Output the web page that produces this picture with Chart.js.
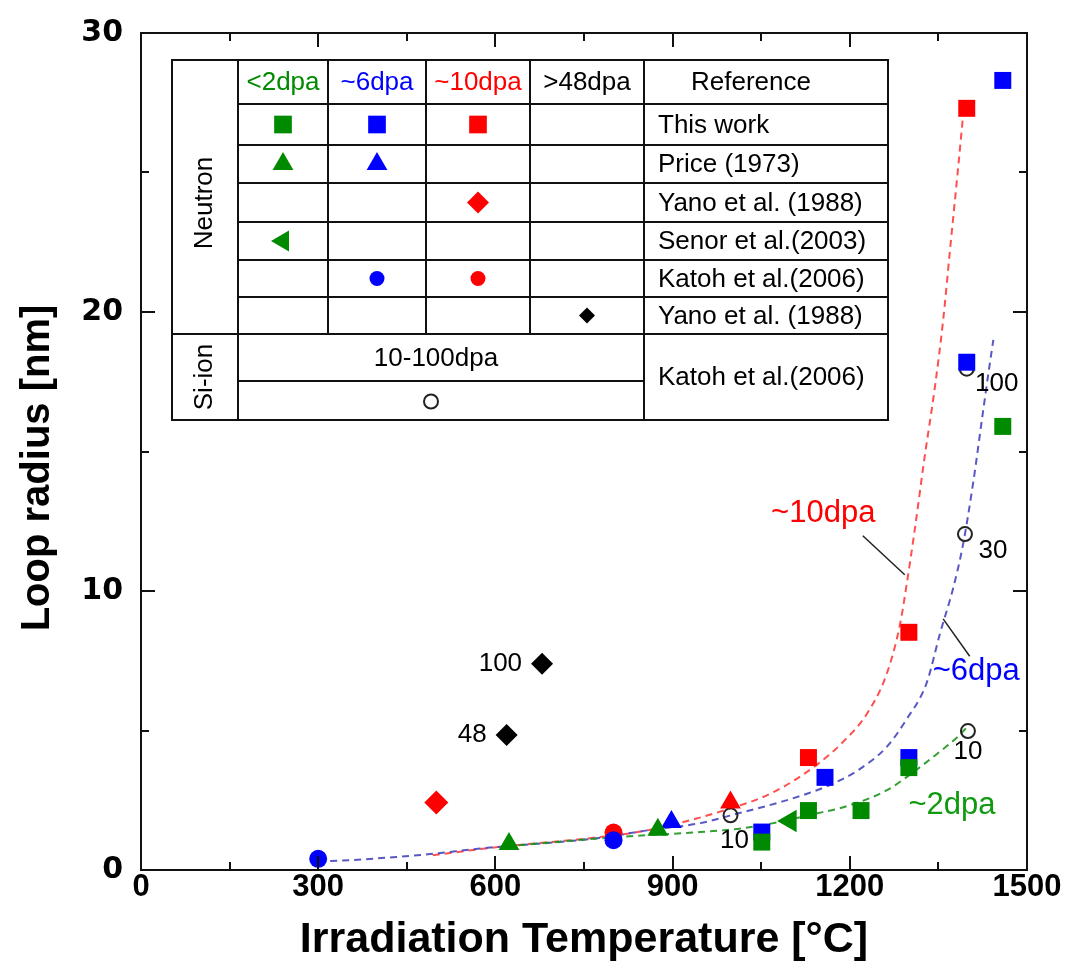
<!DOCTYPE html>
<html lang="en">
<head>
<meta charset="utf-8">
<title>Loop radius vs. irradiation temperature</title>
<script src="https://cdn.jsdelivr.net/npm/chart.js@4.4.1/dist/chart.umd.min.js"></script>
<style>
  html, body { margin: 0; padding: 0; background: #ffffff; }
  canvas { display: block; }
</style>
</head>
<body>
<canvas id="chart" width="1070" height="970"></canvas>
<script>
// ---------- axis tick labels and titles ----------
const tempTickLabels = [0, 300, 600, 900, 1200, 1500];
const radiusTickLabels = [0, 10, 20, 30];
const tempTitle = 'Irradiation Temperature [°C]';
const radiusTitle = 'Loop radius [nm]';

// ---------- measured loop radius (nm) vs irradiation temperature (°C) ----------
// This work (neutron)
const workLt2Temp = [1051, 1130, 1219, 1300, 1459];
const workLt2Radius = [1.00, 2.13, 2.13, 3.67, 15.9];
const work6Temp = [1051, 1158, 1300, 1398, 1459];
const work6Radius = [1.36, 3.32, 4.03, 18.2, 28.3];
const work10Temp = [1130, 1300, 1398];
const work10Radius = [4.03, 8.52, 27.3];

// Price (1973)
const priceLt2Temp = [623, 875];
const priceLt2Radius = [0.93, 1.44];
const price6Temp = [898];
const price6Radius = [1.72];
const price10Temp = [998];
const price10Radius = [2.42];

// Yano et al. (1988), ~10 dpa
const yano10Temp = [500];
const yano10Radius = [2.42];

// Senor et al. (2003)
const senorTemp = [1099];
const senorRadius = [1.76];

// Katoh et al. (2006), neutron
const katoh6Temp = [300, 800];
const katoh6Radius = [0.40, 1.07];
const katoh10Temp = [800];
const katoh10Radius = [1.34];

// Yano et al. (1988), >48 dpa
const yanoHighTemp = [619, 679];
const yanoHighRadius = [4.84, 7.39];
const yanoHighDose = ['48', '100'];

// Katoh et al. (2006), Si-ion
const siIonTemp = [998, 1400, 1395, 1398];
const siIonRadius = [1.96, 4.98, 12.04, 17.97];
const siIonDose = ['10', '10', '30', '100'];

// ---------- trend curves (dashed) ----------
const trend10Temp = [494, 603, 772, 857, 997, 1070, 1149, 1189, 1229, 1262, 1285, 1296, 1310, 1326, 1344, 1358, 1370, 1384, 1392];
const trend10Radius = [0.53, 0.82, 1.17, 1.42, 2.2, 2.78, 3.85, 4.6, 5.6, 7.0, 8.8, 10.2, 12.2, 14.7, 17.3, 19.7, 22.3, 25.3, 27.1];
const trend6Temp = [300, 376, 433, 489, 574, 772, 857, 947, 997, 1085, 1130, 1172, 1212, 1262, 1296, 1330, 1353, 1375, 1392, 1409, 1426, 1436, 1443];
const trend6Radius = [0.30, 0.38, 0.47, 0.57, 0.77, 1.14, 1.42, 1.68, 1.95, 2.45, 2.75, 3.1, 3.55, 4.4, 5.4, 6.7, 8.5, 10.1, 11.7, 13.9, 16.5, 18.0, 19.0];
const trendLt2Temp = [619, 799, 946, 1020, 1080, 1133, 1189, 1262, 1307, 1353, 1381, 1402];
const trendLt2Radius = [0.85, 1.17, 1.36, 1.5, 1.72, 1.98, 2.25, 2.85, 3.5, 4.25, 4.74, 5.2];

// ---------- table text ----------
const doseHeaders = ['<2dpa', '~6dpa', '~10dpa', '>48dpa'];
const referenceNames = ['This work', 'Price (1973)', 'Yano et al. (1988)', 'Senor et al.(2003)', 'Katoh et al.(2006)', 'Yano et al. (1988)'];

const GREEN = '#008a00';
const BLUE = '#0000ff';
const RED = '#ff0000';
const BLACK = '#000000';

function xy(xs, ys) { return xs.map((x, i) => ({ x, y: ys[i] })); }

function markers(label, xs, ys, style, color, radius, extra) {
  return Object.assign({
    label,
    data: xy(xs, ys),
    showLine: false,
    pointStyle: style,
    pointRadius: radius,
    pointHoverRadius: radius,
    pointBackgroundColor: color,
    pointBorderColor: color,
    pointBorderWidth: 0,
    order: 1
  }, extra || {});
}

function trend(label, xs, ys, color) {
  return {
    label,
    data: xy(xs, ys),
    showLine: true,
    borderColor: color,
    borderWidth: 2,
    borderDash: [7, 5],
    pointRadius: 0,
    pointHoverRadius: 0,
    cubicInterpolationMode: 'monotone',
    fill: false,
    order: 10
  };
}

const datasets = [
  trend('~2dpa trend', trendLt2Temp, trendLt2Radius, 'rgba(30,150,30,0.9)'),
  trend('~6dpa trend', trend6Temp, trend6Radius, 'rgba(70,70,190,0.9)'),
  trend('~10dpa trend', trend10Temp, trend10Radius, 'rgba(255,60,60,0.9)'),

  markers('Katoh ~6dpa', katoh6Temp, katoh6Radius, 'circle', BLUE, 9, { tableRow: 4, tableCol: 1, tableRadius: 7.5 }),
  markers('Katoh ~10dpa', katoh10Temp, katoh10Radius, 'circle', RED, 9, { tableRow: 4, tableCol: 2, tableRadius: 7.5 }),
  markers('Price <2dpa', priceLt2Temp, priceLt2Radius, 'triangle', GREEN, 12, { tableRow: 1, tableCol: 0, tableRadius: 12 }),
  markers('Price ~6dpa', price6Temp, price6Radius, 'triangle', BLUE, 12, { tableRow: 1, tableCol: 1, tableRadius: 12 }),
  markers('Price ~10dpa', price10Temp, price10Radius, 'triangle', RED, 12),
  markers('Yano ~10dpa', yano10Temp, yano10Radius, 'rectRot', RED, 12, { tableRow: 2, tableCol: 2, tableRadius: 11 }),
  markers('Senor <2dpa', senorTemp, senorRadius, 'triangle', GREEN, 13, { pointRotation: -90, tableRow: 3, tableCol: 0, tableRadius: 12 }),
  markers('This work <2dpa', workLt2Temp, workLt2Radius, 'rect', GREEN, 12, { tableRow: 0, tableCol: 0, tableRadius: 12.5 }),
  markers('This work ~6dpa', work6Temp, work6Radius, 'rect', BLUE, 12, { tableRow: 0, tableCol: 1, tableRadius: 12.5 }),
  markers('This work ~10dpa', work10Temp, work10Radius, 'rect', RED, 12, { tableRow: 0, tableCol: 2, tableRadius: 12.5 }),
  markers('Yano >48dpa', yanoHighTemp, yanoHighRadius, 'rectRot', BLACK, 11, {
    tableRow: 5, tableCol: 3, tableRadius: 8,
    doseLabels: yanoHighDose, labelAlign: 'right', labelOffsets: [[-20, 0], [-20, 0]]
  }),
  markers('Si-ion', siIonTemp, siIonRadius, 'circle', 'rgba(0,0,0,0)', 7, {
    pointBorderColor: '#222', pointBorderWidth: 2, tableRow: 'si', tableRadius: 7,
    doseLabels: siIonDose, labelAlign: 'center', labelOffsets: [[4, 26], [0, 21], [28, 17], [30, 15]]
  })
];

// dashed-curve captions with leader lines (data coordinates)
const curveNotes = [
  { text: '~10dpa', color: RED, at: [1155, 12.79], from: [1222, 11.98], to: [1293, 10.58] },
  { text: '~6dpa', color: BLUE, at: [1414, 7.12], from: [1403, 7.66], to: [1358, 9.0] },
  { text: '~2dpa', color: '#109a10', at: [1373, 2.32] }
];

const FONT = '"Liberation Sans", Arial, sans-serif';

// frame box with inward ticks on all four sides, plus the vertical axis title
const framePlugin = {
  id: 'frameTicks',
  afterDatasetsDraw(chart) {
    const { ctx, chartArea: a, scales: { x, y } } = chart;
    ctx.save();
    ctx.strokeStyle = '#111';
    ctx.lineWidth = 2;
    ctx.strokeRect(a.left, a.top, a.right - a.left, a.bottom - a.top);
    ctx.beginPath();
    x.ticks.forEach(t => {
      const px = Math.round(x.getPixelForValue(t.value));
      const len = tempTickLabels.includes(t.value) ? 14 : 8;
      ctx.moveTo(px, a.bottom); ctx.lineTo(px, a.bottom - len);
      ctx.moveTo(px, a.top); ctx.lineTo(px, a.top + len);
    });
    y.ticks.forEach(t => {
      const py = Math.round(y.getPixelForValue(t.value));
      const len = radiusTickLabels.includes(t.value) ? 14 : 8;
      ctx.moveTo(a.left, py); ctx.lineTo(a.left + len, py);
      ctx.moveTo(a.right, py); ctx.lineTo(a.right - len, py);
    });
    ctx.stroke();

    ctx.translate(38, 468);
    ctx.rotate(-Math.PI / 2);
    ctx.font = 'bold 40px ' + FONT;
    ctx.fillStyle = '#000';
    ctx.textAlign = 'center';
    ctx.textBaseline = 'middle';
    ctx.fillText(radiusTitle, 0, 0);
    ctx.restore();
  }
};

// dose labels next to points and captions of the trend curves
const notesPlugin = {
  id: 'notes',
  afterDatasetsDraw(chart) {
    const { ctx, scales: { x, y } } = chart;
    ctx.save();
    ctx.textBaseline = 'middle';
    ctx.font = '26px ' + FONT;
    ctx.fillStyle = '#000';
    chart.data.datasets.forEach((ds, i) => {
      if (!ds.doseLabels) return;
      const meta = chart.getDatasetMeta(i);
      ctx.textAlign = ds.labelAlign;
      meta.data.forEach((el, j) => {
        const off = ds.labelOffsets[j];
        ctx.fillText(ds.doseLabels[j], el.x + off[0], el.y + off[1]);
      });
    });
    ctx.font = '31px ' + FONT;
    ctx.textAlign = 'center';
    curveNotes.forEach(n => {
      ctx.fillStyle = n.color;
      ctx.fillText(n.text, x.getPixelForValue(n.at[0]), y.getPixelForValue(n.at[1]));
      if (n.from) {
        ctx.strokeStyle = '#222';
        ctx.lineWidth = 1.5;
        ctx.beginPath();
        ctx.moveTo(x.getPixelForValue(n.from[0]), y.getPixelForValue(n.from[1]));
        ctx.lineTo(x.getPixelForValue(n.to[0]), y.getPixelForValue(n.to[1]));
        ctx.stroke();
      }
    });
    ctx.restore();
  }
};

// inset table that explains the symbols
const tablePlugin = {
  id: 'symbolTable',
  afterDatasetsDraw(chart) {
    const { ctx } = chart;
    const cols = [172, 238, 328, 426, 530, 644, 888];
    const rows = [60, 104, 145, 183, 222, 260, 297, 334, 381, 420];
    const L = cols[0], R = cols[6], T = rows[0], B = rows[9];
    ctx.save();
    ctx.fillStyle = '#fff';
    ctx.fillRect(L, T, R - L, B - T);
    ctx.strokeStyle = '#111';
    ctx.lineWidth = 2;
    ctx.beginPath();
    ctx.rect(L, T, R - L, B - T);
    ctx.moveTo(cols[1], T); ctx.lineTo(cols[1], B);
    ctx.moveTo(cols[5], T); ctx.lineTo(cols[5], B);
    for (let c = 2; c <= 4; c++) { ctx.moveTo(cols[c], T); ctx.lineTo(cols[c], rows[7]); }
    for (let r = 1; r <= 6; r++) { ctx.moveTo(cols[1], rows[r]); ctx.lineTo(R, rows[r]); }
    ctx.moveTo(L, rows[7]); ctx.lineTo(R, rows[7]);
    ctx.moveTo(cols[1], rows[8]); ctx.lineTo(cols[5], rows[8]);
    ctx.stroke();

    ctx.font = '26px ' + FONT;
    ctx.textBaseline = 'middle';
    ctx.textAlign = 'center';
    const headColors = [GREEN, BLUE, RED, BLACK];
    doseHeaders.forEach((h, i) => {
      ctx.fillStyle = headColors[i];
      ctx.fillText(h, (cols[i + 1] + cols[i + 2]) / 2, (rows[0] + rows[1]) / 2 + 1);
    });
    ctx.fillStyle = '#000';
    ctx.fillText('Reference', 751, (rows[0] + rows[1]) / 2 + 1);
    ctx.textAlign = 'left';
    referenceNames.forEach((name, i) => {
      ctx.fillText(name, 658, (rows[i + 1] + rows[i + 2]) / 2 + 1);
    });
    ctx.fillText('Katoh et al.(2006)', 658, (rows[7] + rows[9]) / 2 + 1);
    ctx.textAlign = 'center';
    ctx.fillText('10-100dpa', 436, (rows[7] + rows[8]) / 2 + 1);

    ctx.save();
    ctx.translate(205, 203);
    ctx.rotate(-Math.PI / 2);
    ctx.fillText('Neutron', 0, 0);
    ctx.restore();
    ctx.save();
    ctx.translate(205, 377);
    ctx.rotate(-Math.PI / 2);
    ctx.fillText('Si-ion', 0, 0);
    ctx.restore();

    chart.data.datasets.forEach(ds => {
      if (ds.tableRow === undefined) return;
      let cx, cy;
      if (ds.tableRow === 'si') {
        cx = 431; cy = (rows[8] + rows[9]) / 2 + 1;
      } else {
        cx = (cols[ds.tableCol + 1] + cols[ds.tableCol + 2]) / 2;
        cy = (rows[ds.tableRow + 1] + rows[ds.tableRow + 2]) / 2;
      }
      ctx.fillStyle = ds.pointBackgroundColor;
      ctx.strokeStyle = ds.pointBorderColor;
      ctx.lineWidth = ds.pointBorderWidth;
      Chart.helpers.drawPoint(ctx, {
        pointStyle: ds.pointStyle,
        radius: ds.tableRadius,
        rotation: ds.pointRotation || 0,
        borderWidth: ds.pointBorderWidth
      }, cx, cy);
    });
    ctx.restore();
  }
};

new Chart(document.getElementById('chart'), {
  type: 'scatter',
  data: { datasets },
  plugins: [tablePlugin, notesPlugin, framePlugin],
  options: {
    responsive: false,
    animation: false,
    devicePixelRatio: 1,
    layout: { padding: { left: 0, right: 43, top: 28, bottom: 0 } },
    plugins: { legend: { display: false }, tooltip: { enabled: false } },
    scales: {
      x: {
        type: 'linear',
        min: 0, max: 1500,
        grid: { display: false, drawTicks: false },
        border: { display: false },
        ticks: {
          stepSize: 150,
          autoSkip: false,
          maxRotation: 0,
          padding: 2,
          color: '#000',
          font: { family: FONT, size: 31, weight: 'bold', lineHeight: 1 },
          callback: v => tempTickLabels.includes(v) ? String(v) : ''
        },
        title: {
          display: true,
          text: tempTitle,
          color: '#000',
          font: { family: FONT, size: 43, weight: 'bold', lineHeight: 1 },
          padding: { top: 0, bottom: 8 }
        },
        afterFit: s => { s.height = 100; }
      },
      y: {
        type: 'linear',
        min: 0, max: 30,
        grid: { display: false, drawTicks: false },
        border: { display: false },
        ticks: {
          stepSize: 5,
          autoSkip: false,
          padding: 18,
          color: '#000',
          font: { family: '"DejaVu Sans", sans-serif', size: 30, weight: 'bold', lineHeight: 1 },
          callback: v => radiusTickLabels.includes(v) ? String(v) : ''
        },
        title: { display: false },
        afterFit: s => { s.width = 141; }
      }
    }
  }
});
</script>
</body>
</html>
